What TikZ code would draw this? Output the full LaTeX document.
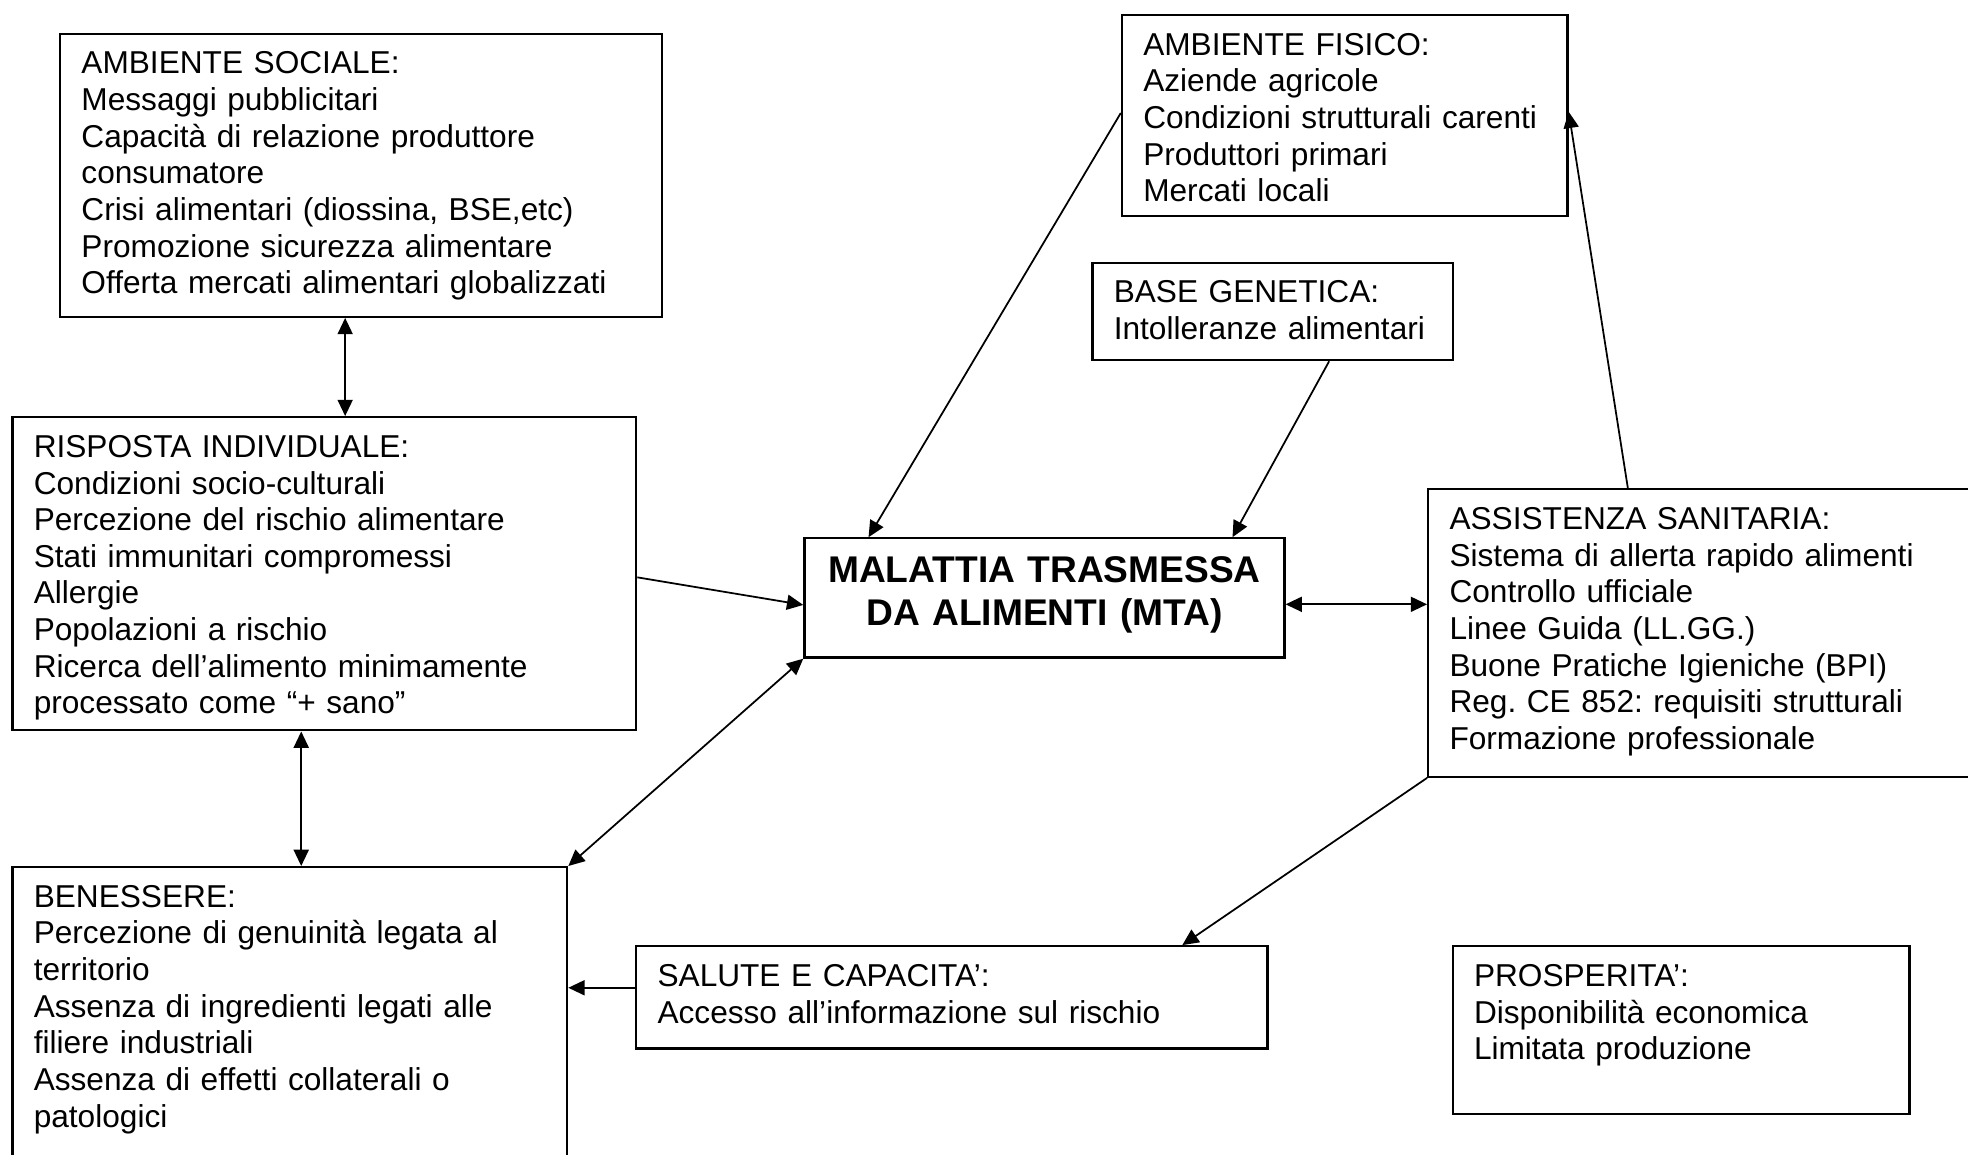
\documentclass[tikz,border=0pt]{standalone}
\usepackage{fontspec}
\setmainfont{Liberation Sans}[Ligatures=NoCommon]
\usetikzlibrary{arrows.meta, positioning, calc}
\newcommand{\txtfont}{\fontsize{12.6pt}{14.6pt}\selectfont\frenchspacing}
\newcommand{\titfont}{\fontsize{14.8pt}{17pt}\selectfont\bfseries}

\begin{document}
\begin{tikzpicture}[x=0.5pt, y=-0.5pt,
  box/.style={draw, line width=0.9pt, anchor=north west, inner xsep=8.5pt, inner ysep=0pt,
    align=left, font=\txtfont, text height=16pt},
  oneway/.style={line width=0.7pt, -{Triangle[length=6.5pt, width=6pt]}},
  twoway/.style={line width=0.7pt, {Triangle[length=6.5pt, width=6pt]}-{Triangle[length=6.5pt, width=6pt]}}]
  \useasboundingbox (0,0) rectangle (1568,920);
  \clip (0,0) rectangle (1568,920);

  % boxes
  \node[box, text width=222.75pt, text depth=96.75pt] (as) at (47,26)
    {AMBIENTE SOCIALE:\\ Messaggi pubblicitari\\ Capacità di relazione produttore\\ consumatore\\
     Crisi alimentari (diossina, BSE,etc)\\ Promozione sicurezza alimentare\\ Offerta mercati alimentari globalizzati};
  \node[box, text width=231.5pt, text depth=108.75pt] (ri) at (9,331.5)
    {RISPOSTA INDIVIDUALE:\\ Condizioni socio-culturali\\ Percezione del rischio alimentare\\ Stati immunitari compromessi\\
     Allergie\\ Popolazioni a rischio\\ Ricerca dell’alimento minimamente\\ processato come “+ sano”};
  \node[box, text width=204pt, text depth=109pt] (ben) at (9,690)
    {BENESSERE:\\ Percezione di genuinità legata al\\ territorio\\ Assenza di ingredienti legati alle\\
     filiere industriali\\ Assenza di effetti collaterali o\\ patologici};
  \node[box, inner xsep=0pt, align=center, font=\titfont, text width=191.25pt,
    text height=17.8pt, text depth=29.7pt] (mta) at (640,428)
    {MALATTIA TRASMESSA\\ DA ALIMENTI (MTA)};
  \node[box, text width=160.5pt, text depth=64pt] (af) at (893,11)
    {AMBIENTE FISICO:\\ Aziende agricole\\ Condizioni strutturali carenti\\ Produttori primari\\ Mercati locali};
  \node[box, text width=126.5pt, text depth=22.75pt] (bg) at (869.5,208.5)
    {BASE GENETICA:\\ Intolleranze alimentari};
  \node[box, text width=214.5pt, text depth=98.5pt] (asst) at (1137,389)
    {ASSISTENZA SANITARIA:\\ Sistema di allerta rapido alimenti\\ Controllo ufficiale\\ Linee Guida (LL.GG.)\\
     Buone Pratiche Igieniche (BPI)\\ Reg. CE 852: requisiti strutturali\\ Formazione professionale};
  \node[box, text width=234.5pt, text depth=24.75pt] (sal) at (506,753)
    {SALUTE E CAPACITA’:\\ Accesso all’informazione sul rischio};
  \node[box, text width=165pt, text depth=50.75pt] (pros) at (1156.5,753)
    {PROSPERITA’:\\ Disponibilità economica\\ Limitata produzione};

  % connectors
  \draw[twoway] (275,0 |- as.south) -- (275,0 |- ri.north);
  \draw[twoway] (240,0 |- ri.south) -- (240,0 |- ben.north);
  \draw[oneway] (ri.east |- 0,460) -- (mta.west |- 0,482);
  \draw[twoway] (ben.north east) -- (mta.south west);
  \draw[oneway] (af.west |- 0,90) -- (692,0 |- mta.north);
  \draw[oneway] (1059,0 |- bg.south) -- (982,0 |- mta.north);
  \draw[twoway] (mta.east |- 0,481.5) -- (asst.west |- 0,481.5);
  \draw[oneway] (1297,0 |- asst.north) -- (af.east |- 0,89);
  \draw[oneway] (asst.south west) -- (942,0 |- sal.north);
  \draw[oneway] (sal.west |- 0,787) -- (ben.east |- 0,787);
\end{tikzpicture}
\end{document}
